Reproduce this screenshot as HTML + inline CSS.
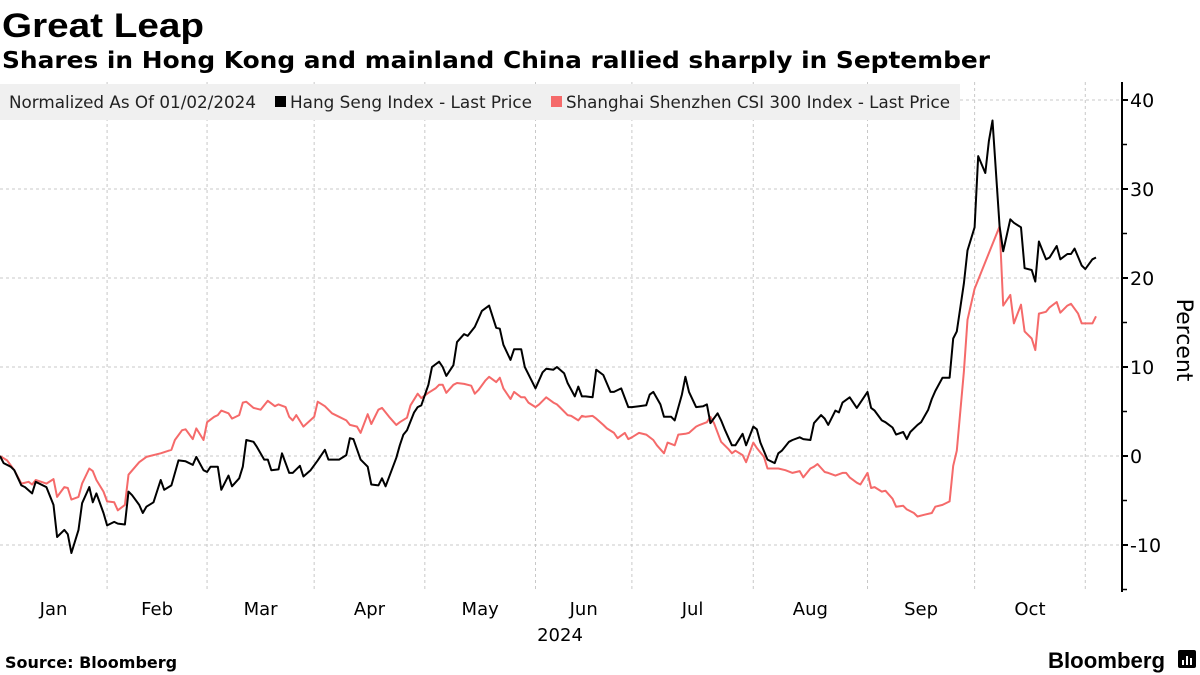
<!DOCTYPE html>
<html><head><meta charset="utf-8">
<style>
body{margin:0;background:#fff;font-family:"Liberation Sans","DejaVu Sans",sans-serif;}
#wrap{position:relative;width:1200px;height:675px;overflow:hidden;background:#fff;}
svg text{font-family:"DejaVu Sans","Liberation Sans",sans-serif;}
</style></head>
<body>
<div id="wrap">
<svg id="chart" width="1200" height="675" viewBox="0 0 1200 675">
  <text x="2" y="37" font-size="34" font-weight="bold" fill="#000" textLength="202" lengthAdjust="spacingAndGlyphs" style="font-family:'Liberation Sans',sans-serif">Great Leap</text>
  <text x="2" y="68" font-size="23" font-weight="bold" fill="#000" textLength="988" lengthAdjust="spacingAndGlyphs" style="font-family:'DejaVu Sans',sans-serif">Shares in Hong Kong and mainland China rallied sharply in September</text>
  <g id="grid"></g>
  <g id="series"></g>
  <g id="legend">
    <rect x="0" y="84" width="960" height="36" fill="#f0f0f0"/>
    <text x="9" y="108" font-size="16.5" fill="#222" textLength="247" lengthAdjust="spacingAndGlyphs">Normalized As Of 01/02/2024</text>
    <rect x="275" y="96" width="11" height="11" fill="#000"/>
    <text x="290" y="108" font-size="16.5" fill="#222" textLength="242" lengthAdjust="spacingAndGlyphs">Hang Seng Index - Last Price</text>
    <rect x="551" y="96" width="11" height="11" fill="#f56a6a"/>
    <text x="566" y="108" font-size="16.5" fill="#222" textLength="384" lengthAdjust="spacingAndGlyphs">Shanghai Shenzhen CSI 300 Index - Last Price</text>
  </g>
  <g id="yaxis"></g>
  <g id="xaxis"></g>
  <text transform="translate(1177,340) rotate(90)" font-size="22" text-anchor="middle" fill="#000">Percent</text>
  <text x="560" y="641" font-size="18" text-anchor="middle" fill="#000">2024</text>
  <text x="5" y="668" font-size="16" font-weight="bold" fill="#000">Source: Bloomberg</text>
  <text x="1048" y="668" font-size="22" font-weight="bold" fill="#000" textLength="117" lengthAdjust="spacingAndGlyphs" style="font-family:'Liberation Sans',sans-serif">Bloomberg</text>
  <g>
    <rect x="1178" y="650" width="18" height="18" rx="2" fill="#000"/>
    <rect x="1182" y="660" width="2" height="5" fill="#fff"/>
    <rect x="1186" y="656" width="2" height="9" fill="#fff"/>
    <rect x="1190" y="658" width="2" height="7" fill="#fff"/>
  </g>
</svg>
</div>
<script>
// ---- data (day offsets from 2024-01-02, percent change) ----
const hsiDays = [0,1,3,4,6,7,9,10,13,15,16,18,19,20,22,23,25,26,27,29,30,32,33,35,36,37,39,40,41,43,45,46,48,50,52,54,55,57,58,59,61,62,64,65,67,68,69,71,72,74,75,76,78,79,81,82,84,85,87,89,91,92,95,97,98,99,101,103,104,106,107,108,111,
112,113,114,116,117,118,120,121,123,124,125,127,128,130,131,133,134,135,137,139,140,141,143,144,146,147,149,150,152,153,155,156,158,159,161,162,163,164,166,167,169,171,172,174,176,177,179,181,182,183,185,186,188,189,191,192,193,195,197,198,199,201,202,203,205,206,208,209,211,212,213,215,217,218,219,221,222,224,225,227,228,
230,231,232,234,235,236,238,240,241,243,244,245,247,248,250,251,253,254,255,257,258,260,261,262,264,266,267,268,270,271,273,274,276,277,278,280,281,283,284,286,287,289,290,291,293,294,296,297,299,300,301,303,304,306,307];
const hsiValues = [0,-0.8,-1.2,-1.6,-3.3,-3.5,-4.2,-2.9,-3.5,-5.5,-9.1,-8.3,-8.8,-10.9,-8.3,-5.3,-3.5,-5.2,-4.2,-6.4,-7.8,-7.4,-7.6,-7.7,-4.0,-4.4,-5.5,-6.4,-5.7,-5.2,-2.7,-3.8,-3.3,-0.5,-0.6,-1.0,-0.1,-1.6,-1.8,-1.2,-1.2,-3.8,-2.2,-3.4,-2.5,-1.2,1.8,1.6,1.0,-0.4,-0.4,-1.6,-1.5,0.3,-1.9,-1.9,-1.1,-2.3,-1.6,-0.5,0.7,-0.4,-0.4,0.1,2.0,1.9,-0.4,-1.2,-3.2,-3.3,-2.5,-3.4,-0.2,
1.2,2.4,2.9,4.9,5.5,5.7,8.0,10.0,10.6,10.0,9.0,10.2,12.8,13.7,13.5,14.5,15.4,16.3,16.9,14.4,14.3,12.5,10.8,12.0,12.0,10.0,8.4,7.6,9.4,9.8,9.7,10.0,9.3,8.2,6.7,7.8,6.7,6.7,6.6,9.7,9.1,7.2,7.2,7.6,5.5,5.5,5.6,5.7,6.9,7.2,5.8,4.4,4.4,4.0,6.9,8.9,7.2,5.5,5.6,5.8,3.7,4.8,4.0,3.0,1.2,1.2,2.5,1.2,3.3,3.0,1.5,-0.4,-0.8,0.3,0.6,1.6,1.8,2.1,1.9,1.8,3.7,
4.6,4.2,3.5,5.1,4.9,6.0,6.6,5.4,6.0,7.2,5.4,5.1,4.0,3.8,3.2,2.4,2.7,1.9,2.7,3.5,3.8,5.2,6.4,7.3,8.8,8.8,13.2,14.0,19.4,23.1,25.7,33.7,31.8,35.4,37.7,25.8,23.0,26.6,26.2,25.7,21.1,20.9,19.6,24.1,22.1,22.3,23.6,22.1,22.7,22.7,23.3,21.4,21.0,22.1,22.3];
const csiDays = [0,2,4,6,8,9,10,13,15,16,18,19,20,22,23,25,26,27,29,30,32,33,35,36,39,41,45,48,49,51,52,54,55,57,58,60,61,62,64,65,67,68,69,71,73,75,77,78,80,81,82,83,85,88,89,91,93,95,97,98,100,101,103,104,106,107,109,111,
112,114,115,117,118,120,122,123,124,125,127,128,130,132,133,134,136,137,139,140,141,143,144,146,147,148,150,151,153,155,156,157,159,160,162,163,164,166,167,169,170,172,173,175,176,177,179,181,183,184,186,187,189,190,192,193,195,196,198,199,200,202,204,205,206,208,209,211,212,214,215,217,218,220,222,224,225,227,228,229,231,232,234,236,237,238,
240,241,243,244,245,247,248,250,251,253,254,256,257,259,261,262,264,266,267,268,270,271,273,280,281,283,284,286,287,289,290,291,293,294,296,297,299,300,302,303,304,306,307];
const csiValues = [0,-0.5,-1.6,-3.1,-2.9,-3.2,-2.7,-3.1,-2.6,-4.6,-3.5,-3.6,-4.9,-4.6,-3.1,-1.4,-1.7,-2.7,-4.0,-5.1,-5.2,-6.1,-5.5,-2.1,-0.7,-0.1,0.3,0.7,1.8,2.9,3.0,1.9,3.1,1.8,3.8,4.4,4.6,5.1,4.8,4.2,4.6,6.0,6.1,5.4,5.2,6.2,5.6,5.8,5.5,4.4,4.0,4.6,3.3,4.4,6.1,5.6,4.8,4.4,4.0,3.5,3.3,2.6,4.7,3.6,5.2,5.4,4.4,3.5,
3.8,4.3,5.7,7.0,6.5,7.1,7.6,8.0,8.0,7.1,8.0,8.2,8.1,7.9,7.0,7.4,8.5,8.9,8.3,8.8,7.6,6.4,7.2,6.6,6.6,6.0,5.5,5.8,6.6,6.0,5.8,5.4,4.6,4.5,4.0,4.5,4.4,4.5,4.2,3.5,3.1,2.6,2.0,2.6,1.9,2.1,2.6,2.4,1.8,1.2,0.3,1.5,1.2,2.4,2.5,2.6,3.3,3.5,3.8,4.4,3.7,1.6,0.8,0.3,0.6,0.1,-0.7,1.5,0.9,-0.1,-1.4,-1.4,-1.4,-1.6,-1.9,-1.7,-2.4,-1.4,-1.2,-0.9,-1.8,-1.9,-2.2,-1.9,-1.9,-2.4,
-3.0,-3.2,-1.9,-3.6,-3.5,-4.0,-3.9,-4.8,-5.7,-5.6,-6.0,-6.4,-6.8,-6.6,-6.4,-5.7,-5.5,-5.1,-1.1,0.6,9.5,15.3,18.8,25.8,16.9,18.1,14.9,17.0,14.0,13.2,11.9,16.0,16.2,16.7,17.3,16.1,16.9,17.1,16.0,14.9,14.9,14.9,15.7];
const monthLabels = ["Jan","Feb","Mar","Apr","May","Jun","Jul","Aug","Sep","Oct"];
const monthStartDays = [0,30,58,88,119,150,177,211,243,273,304];
const yTicks = [-10,0,10,20,30,40];
const yMinor = [-15,-5,5,15,25,35];

// ---- scales ----
const PX_PER_DAY = 3.57;
function xScale(d){ return d*PX_PER_DAY; }
function yScale(v){ return 456 - v*8.9; }
const AXIS_X = 1122, TOP = 82, BOTTOM = 592;
const NS = "http://www.w3.org/2000/svg";
function mk(tag, attrs, parent){ const e=document.createElementNS(NS,tag); for(const k in attrs) e.setAttribute(k,attrs[k]); parent.appendChild(e); return e; }

const grid = document.getElementById('grid');
yTicks.forEach(v=>{
  const l = mk('line',{x1:0,x2:AXIS_X,y1:yScale(v),y2:yScale(v),stroke:'#c8c8c8','stroke-width':1,'stroke-dasharray':'3,3'},grid);
  
  
});
monthStartDays.slice(1).forEach(d=>{
  const l = mk('line',{x1:xScale(d),x2:xScale(d),y1:TOP,y2:BOTTOM,stroke:'#c8c8c8','stroke-width':1,'stroke-dasharray':'3,3'},grid);
  
  
});

const yaxis = document.getElementById('yaxis');
const axl = mk('line',{x1:AXIS_X,x2:AXIS_X,y1:TOP,y2:BOTTOM,stroke:'#000','stroke-width':2},yaxis);


yTicks.forEach(v=>{
  const t = mk('line',{x1:AXIS_X,x2:AXIS_X+6,y1:yScale(v),y2:yScale(v),stroke:'#000','stroke-width':2},yaxis);
  
  
  const tx = mk('text',{x:AXIS_X+8,y:yScale(v)+7,'font-size':19,fill:'#000'},yaxis);
  tx.textContent = v;
  
  
});
yMinor.forEach(v=>{
  const t = mk('line',{x1:AXIS_X,x2:AXIS_X+5,y1:yScale(v),y2:yScale(v),stroke:'#000','stroke-width':1.5},yaxis);
  
  
});

const xaxis = document.getElementById('xaxis');
monthLabels.forEach((m,i)=>{
  const cx = (xScale(monthStartDays[i])+xScale(monthStartDays[i+1]))/2;
  const t = mk('text',{x:cx,y:615,'font-size':18,'text-anchor':'middle',fill:'#000'},xaxis);
  t.textContent = m;
  
  
});

const series = document.getElementById('series');
function drawLine(days, vals, color, name){
  const n = Math.min(days.length, vals.length);
  let d = '';
  for(let i=0;i<n;i++){ d += (i?'L':'M') + xScale(days[i]).toFixed(1) + ',' + yScale(vals[i]).toFixed(1); }
  const p = mk('path',{d:d,fill:'none',stroke:color,'stroke-width':2,'stroke-linejoin':'round'},series);
  
  
}
drawLine(csiDays, csiValues, '#f56a6a', 'csi300-line');
drawLine(hsiDays, hsiValues, '#000000', 'hang-seng-line');
</script>
</body></html>
